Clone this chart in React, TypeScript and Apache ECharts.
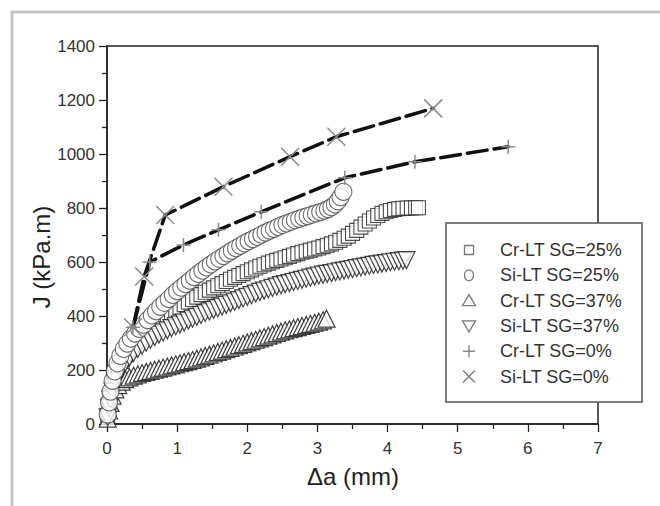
import React, { useEffect, useRef } from 'react';
import * as echarts from 'echarts';

const seriesNames = [
  'Cr-LT SG=25%',
  'Si-LT SG=25%',
  'Cr-LT SG=37%',
  'Si-LT SG=37%',
  'Cr-LT SG=0%',
  'Si-LT SG=0%',
];

const xTitle = 'Δa (mm)';
const yTitle = 'J (kPa.m)';

const crLt25: [number, number][] = [
  [0.01, 30], [0.03, 70], [0.05, 105], [0.08, 140], [0.12, 175], [0.16, 205], [0.21, 232], [0.26, 255],
  [0.32, 276], [0.38, 295], [0.44, 312], [0.5, 327], [0.56, 341], [0.62, 354], [0.68, 367], [0.74, 379],
  [0.8, 390], [0.86, 401], [0.92, 412], [0.98, 422], [1.04, 432], [1.1, 442], [1.16, 452], [1.22, 461],
  [1.28, 470], [1.34, 479], [1.4, 488], [1.46, 496], [1.52, 504], [1.58, 512], [1.64, 520], [1.7, 528],
  [1.76, 536], [1.82, 543], [1.88, 550], [1.94, 557], [2.0, 564], [2.06, 571], [2.12, 578], [2.18, 584],
  [2.24, 590], [2.3, 596], [2.36, 601], [2.42, 606], [2.48, 611], [2.54, 616], [2.6, 621], [2.66, 626],
  [2.72, 631], [2.78, 636], [2.84, 640], [2.9, 644], [2.96, 648], [3.02, 652], [3.08, 657], [3.14, 662],
  [3.2, 667], [3.26, 673], [3.32, 680], [3.38, 688], [3.44, 696], [3.5, 706], [3.56, 717], [3.62, 729],
  [3.68, 741], [3.74, 752], [3.8, 763], [3.86, 772], [3.92, 780], [3.98, 786], [4.04, 791], [4.1, 795],
  [4.16, 797], [4.22, 799], [4.28, 800], [4.34, 800], [4.4, 801], [4.44, 801],
];

const siLt25: [number, number][] = [
  [0.01, 35], [0.03, 80], [0.05, 120], [0.08, 160], [0.11, 195], [0.15, 225], [0.19, 252], [0.24, 278],
  [0.29, 298], [0.34, 316], [0.4, 335], [0.46, 352], [0.52, 368], [0.58, 385], [0.64, 402], [0.7, 418],
  [0.76, 434], [0.82, 449], [0.88, 463], [0.94, 478], [1.0, 492], [1.06, 505], [1.12, 518], [1.18, 531],
  [1.24, 544], [1.3, 556], [1.36, 568], [1.42, 580], [1.48, 591], [1.54, 602], [1.6, 612], [1.66, 622],
  [1.72, 632], [1.78, 642], [1.84, 651], [1.9, 660], [1.96, 669], [2.02, 677], [2.08, 685], [2.14, 693],
  [2.2, 701], [2.26, 709], [2.32, 716], [2.38, 723], [2.44, 730], [2.5, 737], [2.56, 743], [2.62, 749],
  [2.68, 755], [2.74, 760], [2.8, 765], [2.86, 770], [2.92, 775], [2.98, 780], [3.04, 785], [3.1, 790],
  [3.15, 796], [3.2, 803], [3.25, 813], [3.29, 825], [3.33, 840], [3.37, 860],
];

const crLt37: [number, number][] = [
  [0.01, 20], [0.03, 50], [0.05, 78], [0.08, 105], [0.12, 128], [0.16, 144], [0.21, 157], [0.26, 166],
  [0.32, 173], [0.38, 179], [0.44, 184], [0.5, 189], [0.56, 193], [0.62, 197], [0.68, 201], [0.74, 205],
  [0.8, 209], [0.86, 213], [0.92, 217], [0.98, 221], [1.04, 225], [1.1, 229], [1.16, 233], [1.22, 237],
  [1.28, 242], [1.34, 247], [1.4, 252], [1.46, 257], [1.52, 262], [1.58, 267], [1.64, 272], [1.7, 277],
  [1.76, 282], [1.82, 287], [1.88, 292], [1.94, 297], [2.0, 302], [2.06, 307], [2.12, 312], [2.18, 317],
  [2.24, 322], [2.3, 327], [2.36, 332], [2.42, 337], [2.48, 342], [2.54, 347], [2.6, 351], [2.66, 355],
  [2.72, 359], [2.78, 363], [2.84, 367], [2.9, 371], [2.96, 375], [3.02, 379], [3.08, 384], [3.13, 390],
];

const siLt37: [number, number][] = [
  [0.01, 25], [0.03, 60], [0.05, 90], [0.08, 120], [0.12, 152], [0.16, 180], [0.21, 205], [0.26, 226],
  [0.32, 246], [0.38, 263], [0.44, 278], [0.5, 290], [0.56, 301], [0.62, 312], [0.68, 322], [0.74, 331],
  [0.8, 339], [0.86, 347], [0.92, 355], [0.98, 362], [1.04, 369], [1.1, 376], [1.16, 383], [1.22, 390],
  [1.28, 397], [1.34, 404], [1.4, 411], [1.46, 417], [1.52, 423], [1.58, 429], [1.64, 435], [1.7, 441],
  [1.76, 447], [1.82, 453], [1.88, 459], [1.94, 465], [2.0, 471], [2.06, 477], [2.12, 483], [2.18, 489],
  [2.24, 494], [2.3, 499], [2.36, 504], [2.42, 509], [2.48, 514], [2.54, 518], [2.6, 522], [2.66, 526],
  [2.72, 530], [2.78, 534], [2.84, 538], [2.9, 542], [2.96, 546], [3.02, 550], [3.08, 553], [3.14, 556],
  [3.2, 559], [3.26, 562], [3.32, 565], [3.38, 568], [3.44, 571], [3.5, 574], [3.56, 577], [3.62, 580],
  [3.68, 583], [3.74, 586], [3.8, 589], [3.86, 591], [3.92, 594], [3.98, 596], [4.04, 599], [4.1, 601],
  [4.16, 603], [4.22, 605], [4.27, 607],
];

const crLt0: [number, number][] = [
  [0.37, 358], [0.61, 600], [1.09, 663], [1.59, 719], [2.2, 786], [3.39, 912], [4.39, 971], [5.72, 1027],
];

const siLt0: [number, number][] = [
  [0.37, 358], [0.53, 546], [0.83, 774], [1.66, 879], [2.61, 990], [3.27, 1064], [4.65, 1169],
];

const X_MIN = 0;
const X_MAX = 7;
const X_STEP = 1;
const Y_MIN = 0;
const Y_MAX = 1400;
const Y_STEP = 200;

const FONT = '"Liberation Sans", Arial, sans-serif';
const PLUS_PATH = 'path://M5 0L5 10M0 5L10 5';
const CROSS_PATH = 'path://M0 0L10 10M10 0L0 10';

export default function App() {
  const ref = useRef<HTMLDivElement>(null);

  useEffect(() => {
    if (!ref.current) return;
    const chart = echarts.init(ref.current, undefined, { renderer: 'svg' });

    const openMarker = (stroke: string, w = 1.1) => ({
      color: '#ffffff',
      borderColor: stroke,
      borderWidth: w,
    });

    const legendX = 446;
    const legendY = 223;
    const rowY = (i: number) => 250 + i * 25.3;
    const symX = 469;
    const gray = '#7a7a7a';

    const legendSymbols: any[] = [
      { type: 'rect', shape: { x: symX - 4.5, y: rowY(0) - 4.5, width: 9, height: 9 }, style: { fill: 'none', stroke: gray, lineWidth: 1.3 } },
      { type: 'ellipse', shape: { cx: symX, cy: rowY(1), rx: 4.5, ry: 5.5 }, style: { fill: 'none', stroke: gray, lineWidth: 1.3 } },
      { type: 'polygon', shape: { points: [[symX, rowY(2) - 6], [symX - 6.5, rowY(2) + 5], [symX + 6.5, rowY(2) + 5]] }, style: { fill: 'none', stroke: gray, lineWidth: 1.3 } },
      { type: 'polygon', shape: { points: [[symX, rowY(3) + 6], [symX - 6.5, rowY(3) - 5], [symX + 6.5, rowY(3) - 5]] }, style: { fill: 'none', stroke: gray, lineWidth: 1.3 } },
      { type: 'line', shape: { x1: symX - 6, y1: rowY(4), x2: symX + 6, y2: rowY(4) }, style: { stroke: gray, lineWidth: 1.3 } },
      { type: 'line', shape: { x1: symX, y1: rowY(4) - 6, x2: symX, y2: rowY(4) + 6 }, style: { stroke: gray, lineWidth: 1.3 } },
      { type: 'line', shape: { x1: symX - 6, y1: rowY(5) - 6, x2: symX + 6, y2: rowY(5) + 6 }, style: { stroke: gray, lineWidth: 1.3 } },
      { type: 'line', shape: { x1: symX - 6, y1: rowY(5) + 6, x2: symX + 6, y2: rowY(5) - 6 }, style: { stroke: gray, lineWidth: 1.3 } },
    ];

    const legendTexts = seriesNames.map((name, i) => ({
      type: 'text',
      x: 500,
      y: rowY(i),
      style: {
        text: name,
        fill: '#333',
        font: `18px ${FONT}`,
        verticalAlign: 'middle',
      },
    }));

    const axisCommon = {
      type: 'value',
      axisLine: { show: true, onZero: false, lineStyle: { color: '#222', width: 1.5 } },
      axisTick: { show: true, length: 8, lineStyle: { color: '#222', width: 1.3 } },
      minorTick: { show: true, splitNumber: 2, length: 5, lineStyle: { color: '#222', width: 1.3 } },
      splitLine: { show: false },
    };

    const option: any = {
      animation: false,
      backgroundColor: '#ffffff',
      grid: {
        left: 107,
        top: 46,
        right: 62,
        bottom: 82,
        show: true,
        borderColor: '#222',
        borderWidth: 1.5,
        backgroundColor: 'transparent',
      },
      xAxis: {
        ...axisCommon,
        min: X_MIN,
        max: X_MAX,
        interval: X_STEP,
        axisLabel: { color: '#333', fontSize: 17, fontFamily: FONT, margin: 16, formatter: (v: number) => String(v) },
      },
      yAxis: {
        ...axisCommon,
        min: Y_MIN,
        max: Y_MAX,
        interval: Y_STEP,
        axisLabel: { color: '#333', fontSize: 17, fontFamily: FONT, margin: 12, formatter: (v: number) => String(v) },
      },
      series: [
        {
          type: 'scatter',
          name: seriesNames[0],
          data: crLt25,
          symbol: 'rect',
          symbolSize: 14,
          itemStyle: openMarker('#222'),
          z: 2,
        },
        {
          type: 'scatter',
          name: seriesNames[1],
          data: siLt25,
          symbol: 'circle',
          symbolSize: 17,
          itemStyle: openMarker('#4a4a4a'),
          z: 3,
        },
        {
          type: 'scatter',
          name: seriesNames[2],
          data: crLt37,
          symbol: 'triangle',
          symbolSize: 17,
          itemStyle: openMarker('#111', 1.2),
          z: 2,
        },
        {
          type: 'scatter',
          name: seriesNames[3],
          data: siLt37,
          symbol: 'triangle',
          symbolRotate: 180,
          symbolSize: 17,
          itemStyle: openMarker('#161616', 1.2),
          z: 2,
        },
        {
          type: 'line',
          name: seriesNames[4],
          data: crLt0,
          symbol: PLUS_PATH,
          symbolSize: 14,
          showSymbol: true,
          lineStyle: { color: '#111', width: 3.5, type: [20, 7], cap: 'round' },
          itemStyle: { color: 'none', borderColor: '#8a8a8a', borderWidth: 1.5 },
          z: 5,
        },
        {
          type: 'line',
          name: seriesNames[5],
          data: siLt0,
          symbol: CROSS_PATH,
          symbolSize: 18,
          showSymbol: true,
          lineStyle: { color: '#111', width: 3.5, type: [20, 7], cap: 'round' },
          itemStyle: { color: 'none', borderColor: '#8a8a8a', borderWidth: 1.5 },
          z: 5,
        },
      ],
      graphic: [
        {
          type: 'rect',
          shape: { x: 12, y: 12, width: 700, height: 560 },
          style: { fill: 'none', stroke: '#c6c6c6', lineWidth: 3 },
          z: 0,
          silent: true,
        },
        {
          type: 'text',
          x: 41,
          y: 257,
          rotation: Math.PI / 2,
          style: {
            text: yTitle,
            fill: '#222',
            font: `24px ${FONT}`,
            align: 'center',
            verticalAlign: 'middle',
          },
        },
        {
          type: 'text',
          x: 353,
          y: 476,
          style: {
            text: xTitle,
            fill: '#222',
            font: `24px ${FONT}`,
            align: 'center',
            verticalAlign: 'middle',
          },
        },
        {
          type: 'rect',
          shape: { x: legendX, y: legendY, width: 196, height: 179 },
          style: { fill: '#ffffff', stroke: '#555', lineWidth: 1.5 },
          z: 20,
        },
        ...legendSymbols.map((s) => ({ ...s, z: 21 })),
        ...legendTexts.map((t) => ({ ...t, z: 21 })),
      ],
    };

    chart.setOption(option);
    return () => chart.dispose();
  }, []);

  return (
    <div
      ref={ref}
      style={{ position: 'fixed', left: 0, top: 0, width: 660, height: 506, background: '#fff' }}
    />
  );
}
